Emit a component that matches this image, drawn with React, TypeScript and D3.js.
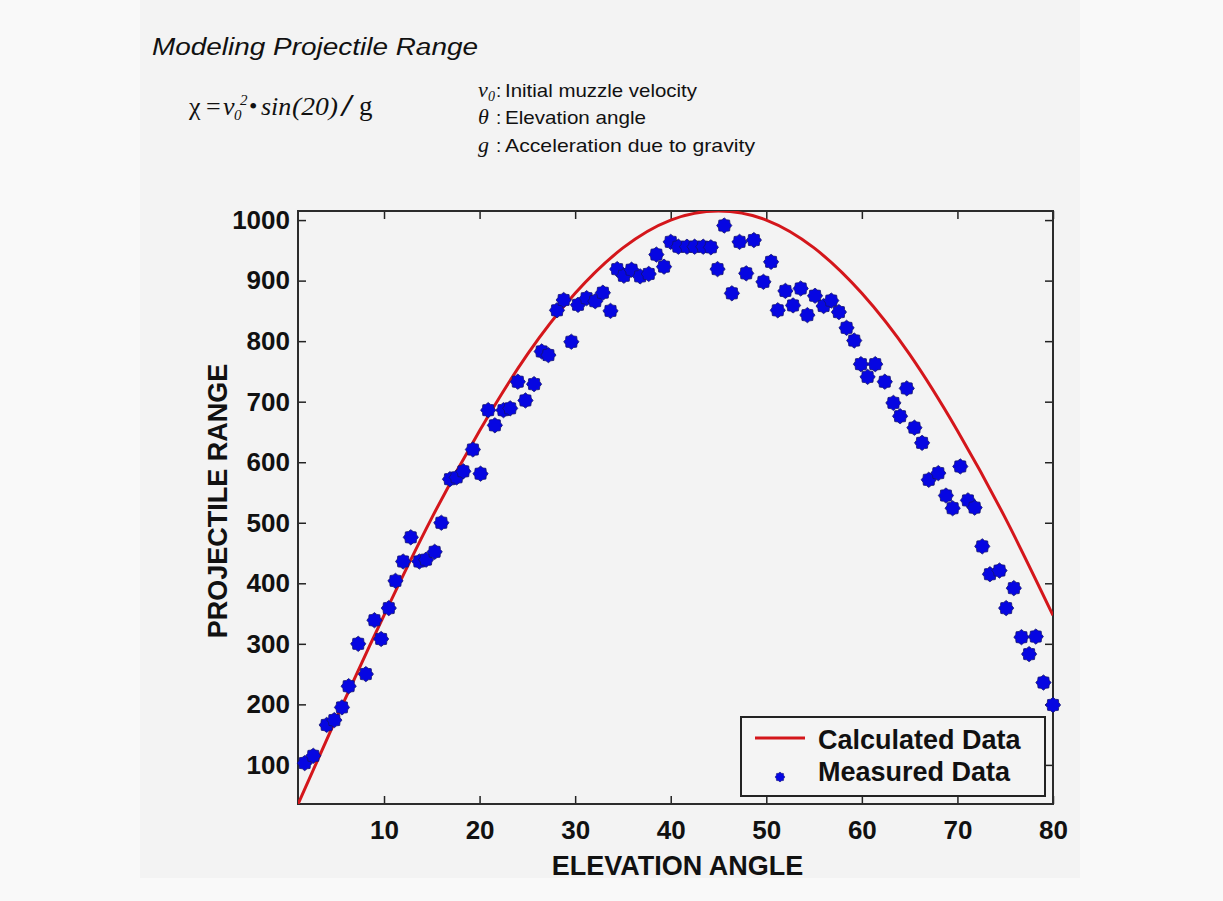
import { useRef, useEffect } from "react";
import * as d3 from "d3";

// calculated curve
const calcAngle = [1, 5, 10, 15, 20, 25, 30, 35, 40, 45, 50, 55, 60, 65, 70, 75, 80];
const calcRange = [35, 177, 347, 508, 652, 778, 879, 954, 1000, 1015, 1000, 954, 879, 778, 652, 508, 347];

// measured points (blue markers)
const measAngle = [
  1.7, 2.6, 4.0, 4.8, 5.6, 6.3, 7.3, 8.1, 9.0, 9.7, 10.5, 11.2, 12.0, 12.8, 13.7, 14.4, 15.3, 16.0, 16.9, 17.6,
  18.3, 19.3, 20.1, 20.9, 21.6, 22.5, 23.2, 24.0, 24.8, 25.7, 26.5, 27.2, 28.1, 28.8, 29.6, 30.3, 31.2, 32.1, 32.9, 33.7,
  34.4, 35.1, 35.9, 36.8, 37.7, 38.5, 39.3, 40.0, 40.8, 41.7, 42.5, 43.4, 44.2, 44.9, 45.6, 46.4, 47.2, 47.9, 48.7, 49.7,
  50.5, 51.2, 52.0, 52.8, 53.6, 54.3, 55.1, 56.0, 56.8, 57.6, 58.4, 59.2, 59.9, 60.6, 61.4, 62.4, 63.3, 64.0, 64.7, 65.5,
  66.3, 67.0, 68.0, 68.8, 69.5, 70.3, 71.1, 71.8, 72.6, 73.4, 74.4, 75.1, 75.9, 76.7, 77.5, 78.2, 79.0, 80.0,
];
const measRange = [
  103, 115, 166, 174, 195, 230, 300, 250, 339, 308, 359, 404, 436, 476, 436, 439, 452, 500, 572, 575,
  585, 621, 581, 686, 661, 686, 689, 733, 702, 729, 783, 777, 851, 868, 799, 860, 871, 866, 880, 850,
  919, 908, 918, 907, 911, 943, 923, 964, 956, 956, 956, 956, 955, 919, 991, 879, 964, 912, 967, 898,
  931, 851, 883, 859, 887, 843, 875, 858, 867, 848, 822, 801, 762, 741, 762, 733, 698, 676, 722, 657,
  632, 571, 582, 545, 524, 593, 537, 525, 461, 415, 421, 359, 392, 311, 283, 312, 236, 199,
];

const xTicks = [10, 20, 30, 40, 50, 60, 70, 80];
const yTicks = [100, 200, 300, 400, 500, 600, 700, 800, 900, 1000];
const legendLabels = ["Calculated Data", "Measured Data"];

const SANS = "'Liberation Sans', Arial, Helvetica, sans-serif";
const SERIF = "'Liberation Serif', 'Times New Roman', serif";

export default function App() {
  const svgRef = useRef<SVGSVGElement>(null);

  useEffect(() => {
    const width = 1223;
    const height = 901;
    const plot = { left: 298, right: 1053, top: 211, bottom: 804 };

    const svg = d3.select(svgRef.current).attr("width", width).attr("height", height);
    svg.selectAll("*").remove();

    // page + scanned-panel background
    svg.append("rect").attr("width", width).attr("height", height).attr("fill", "#f9f9f9");
    svg.append("rect").attr("x", 140).attr("y", 0).attr("width", 940).attr("height", 878).attr("fill", "#f3f3f3");

    // header
    svg.append("text")
      .attr("x", 152).attr("y", 55)
      .attr("font-family", SANS).attr("font-style", "italic").attr("font-size", 23)
      .attr("textLength", 326).attr("lengthAdjust", "spacingAndGlyphs")
      .attr("fill", "#111")
      .text("Modeling Projectile Range");

    const formula = svg.append("g").attr("fill", "#111").attr("font-family", SERIF);
    const piece = (x: number, y: number, t: string, size = 26, italic = false) =>
      formula.append("text").attr("x", x).attr("y", y).attr("font-size", size)
        .attr("font-style", italic ? "italic" : "normal").text(t);
    piece(189, 115, "χ");
    piece(206, 115, "=");
    piece(223, 115, "v", 26, true);
    piece(234, 120, "0", 15, true);
    piece(240, 105, "2", 15, true);
    piece(249, 114, "•", 24);
    piece(261, 115, "sin", 26, true);
    piece(292, 115, "(20)", 26, true).attr("textLength", 46).attr("lengthAdjust", "spacingAndGlyphs");
    piece(340, 116, "/", 31).attr("textLength", 14).attr("lengthAdjust", "spacingAndGlyphs");
    piece(359, 115, "g", 27);

    const defs = [
      { sym: "v", sub: "0", text: "Initial muzzle velocity", len: 192, y: 97 },
      { sym: "θ", sub: "", text: "Elevation angle", len: 141, y: 124 },
      { sym: "g", sub: "", text: "Acceleration due to gravity", len: 250, y: 152 },
    ];
    defs.forEach((d) => {
      const g = svg.append("g").attr("fill", "#111");
      g.append("text").attr("x", 478).attr("y", d.y).attr("font-family", SERIF)
        .attr("font-style", "italic").attr("font-size", 22).text(d.sym);
      if (d.sub) {
        g.append("text").attr("x", 488).attr("y", d.y + 4).attr("font-family", SERIF)
          .attr("font-style", "italic").attr("font-size", 14).text(d.sub);
      }
      g.append("text").attr("x", 496).attr("y", d.y).attr("font-family", SANS)
        .attr("font-size", 19).text(":");
      g.append("text").attr("x", 505).attr("y", d.y).attr("font-family", SANS)
        .attr("font-size", 19).attr("textLength", d.len).attr("lengthAdjust", "spacingAndGlyphs")
        .text(d.text);
    });

    // scales
    const x = d3.scaleLinear().domain([1, 80]).range([plot.left, plot.right]);
    const y = d3.scaleLinear().domain([35.4, 1015]).range([plot.bottom, plot.top]);

    svg.append("defs").append("clipPath").attr("id", "plot-clip")
      .append("rect")
      .attr("x", plot.left).attr("y", plot.top)
      .attr("width", plot.right - plot.left).attr("height", plot.bottom - plot.top);

    // axes (ticks inward on all four sides, matlab style)
    const tickFont = (sel: any) =>
      sel.selectAll("text").attr("font-family", SANS).attr("font-weight", "bold")
        .attr("font-size", 26).attr("fill", "#111");

    const gx = svg.append("g").attr("transform", `translate(0, ${plot.bottom})`)
      .call(d3.axisBottom(x).tickValues(xTicks).tickFormat(d3.format("d"))
        .tickSizeInner(-8).tickSizeOuter(0).tickPadding(17));
    tickFont(gx);
    const gy = svg.append("g").attr("transform", `translate(${plot.left}, 0)`)
      .call(d3.axisLeft(y).tickValues(yTicks).tickFormat(d3.format("d"))
        .tickSizeInner(-8).tickSizeOuter(0).tickPadding(8));
    tickFont(gy);
    svg.append("g").attr("transform", `translate(0, ${plot.top})`)
      .call(d3.axisTop(x).tickValues(xTicks).tickSizeInner(-8).tickSizeOuter(0).tickFormat(() => ""));
    svg.append("g").attr("transform", `translate(${plot.right}, 0)`)
      .call(d3.axisRight(y).tickValues(yTicks).tickSizeInner(-8).tickSizeOuter(0).tickFormat(() => ""));
    svg.selectAll(".domain").remove();
    svg.selectAll(".tick line").attr("stroke", "#222").attr("stroke-width", 1.5);

    // frame
    svg.append("rect")
      .attr("x", plot.left).attr("y", plot.top)
      .attr("width", plot.right - plot.left).attr("height", plot.bottom - plot.top)
      .attr("fill", "none").attr("stroke", "#2b2b2b").attr("stroke-width", 2);

    // calculated curve
    const line = d3.line<number>()
      .x((d, i) => x(calcAngle[i]))
      .y((d) => y(d))
      .curve(d3.curveNatural);
    svg.append("path")
      .datum(calcRange)
      .attr("clip-path", "url(#plot-clip)")
      .attr("d", line)
      .attr("fill", "none")
      .attr("stroke", "#d4161b")
      .attr("stroke-width", 3);

    // measured markers: bumpy octagram blobs
    const star = d3.lineRadial<number>()
      .angle((d, i) => (i * Math.PI) / 8)
      .radius((d) => d)
      .curve(d3.curveLinearClosed);
    const starPath = star(d3.range(16).map((i) => (i % 2 === 0 ? 7.6 : 6.2))) as string;

    svg.append("g").selectAll("path")
      .data(measRange)
      .enter()
      .append("path")
      .attr("d", starPath)
      .attr("transform", (d, i) => `translate(${x(measAngle[i])}, ${y(d)})`)
      .attr("fill", "#0606e2")
      .attr("stroke", "#14146e")
      .attr("stroke-width", 0.8);

    // legend
    const lg = svg.append("g");
    lg.append("rect")
      .attr("x", 741).attr("y", 717).attr("width", 304).attr("height", 79)
      .attr("fill", "#f4f4f4").attr("stroke", "#222").attr("stroke-width", 2);
    lg.append("line")
      .attr("x1", 755).attr("x2", 805).attr("y1", 738).attr("y2", 738)
      .attr("stroke", "#d4161b").attr("stroke-width", 3);
    lg.append("path")
      .attr("d", starPath)
      .attr("transform", "translate(780, 777) scale(0.65)")
      .attr("fill", "#0606e2").attr("stroke", "#14146e").attr("stroke-width", 0.8);
    lg.selectAll("text.leg")
      .data(legendLabels)
      .enter()
      .append("text")
      .attr("class", "leg")
      .attr("x", 818)
      .attr("y", (d, i) => 749 + i * 32)
      .attr("font-family", SANS).attr("font-weight", "bold").attr("font-size", 27)
      .attr("fill", "#111")
      .text((d) => d);

    // axis titles
    svg.append("text")
      .attr("x", (plot.left + plot.right) / 2 + 2).attr("y", 875)
      .attr("text-anchor", "middle")
      .attr("font-family", SANS).attr("font-weight", "bold").attr("font-size", 27)
      .attr("fill", "#111")
      .text("ELEVATION ANGLE");
    svg.append("text")
      .attr("transform", "translate(227, 501) rotate(-90)")
      .attr("text-anchor", "middle")
      .attr("font-family", SANS).attr("font-weight", "bold").attr("font-size", 27)
      .attr("fill", "#111")
      .text("PROJECTILE RANGE");
  }, []);

  return <svg ref={svgRef} style={{ position: "absolute", left: 0, top: 0 }} />;
}
